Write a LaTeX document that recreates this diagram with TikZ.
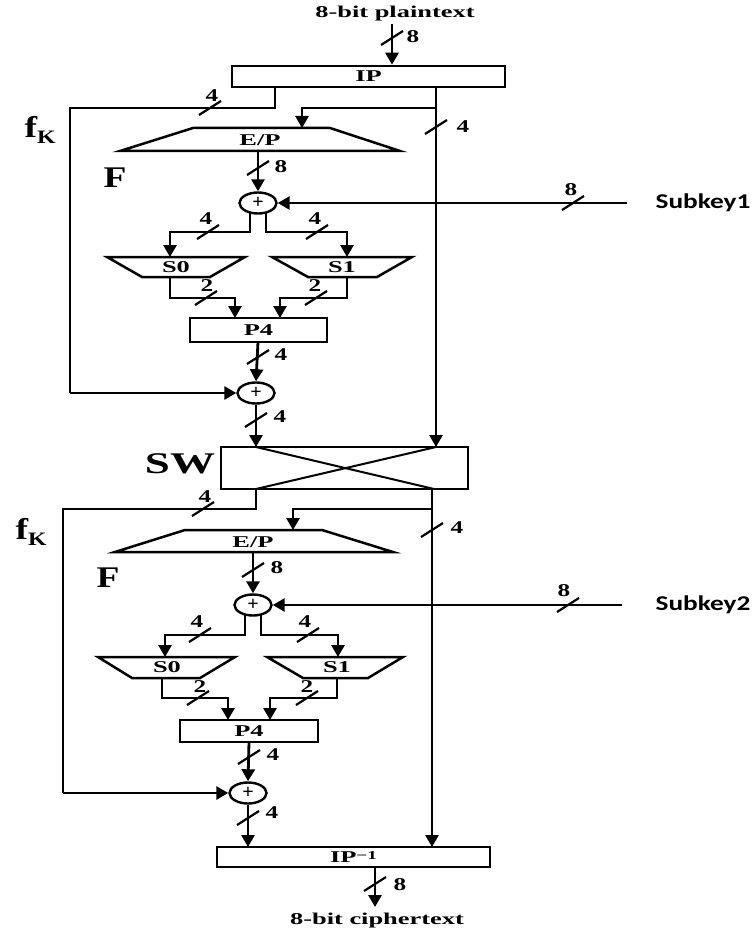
\documentclass[tikz,border=0pt]{standalone}
\usepackage{fontspec}
\setmainfont{Liberation Serif}
\newfontfamily\lblfont[FakeStretch=1.6]{Liberation Serif}
\newfontfamily\numfont[FakeStretch=1.4]{Liberation Serif}
\newfontfamily\bigfont[FakeStretch=1.25]{Liberation Serif}
\newfontfamily\swfont[FakeStretch=1.5]{Liberation Serif}
\newfontfamily\keyfont[FakeStretch=1.3]{Carlito}
\usetikzlibrary{arrows.meta,shapes.geometric}
\tikzset{
 ln/.style={line width=2.8pt},
 arr/.style={line width=2.8pt,-{Triangle[width=13pt,length=12pt]}},
 box/.style={draw,line width=2.5pt,rectangle,inner sep=0pt},
 shp/.style={line width=2.5pt,line join=miter},
 sl/.style={line width=2.2pt},
 lbl/.style={font={\lblfont\bfseries\fontsize{16.5}{17}\selectfont},inner sep=0pt},
 num/.style={font={\numfont\bfseries\fontsize{18}{18}\selectfont},inner sep=0pt},
 big/.style={font={\bigfont\bfseries\fontsize{30}{30}\selectfont},inner sep=0pt},
 swl/.style={font={\swfont\bfseries\fontsize{30}{30}\selectfont},inner sep=0pt},
 key/.style={font={\keyfont\bfseries\fontsize{21}{21}\selectfont},inner sep=0pt},
 xor/.style={draw,ellipse,line width=2.4pt,minimum width=37pt,minimum height=21pt,inner sep=0pt,font={\bfseries\fontsize{20}{20}\selectfont}},
}
\newcommand{\slmark}[2]{\draw[sl] (#1,#2) ++(-11,7) -- ++(22,-14);}
\begin{document}
\begin{tikzpicture}[x=1pt,y=-1pt]
\useasboundingbox (0,0) rectangle (755,933);
\fill[white] (0,0) rectangle (755,933);

% ---------- top round ----------
\node[lbl] (pt) at (395,14) {8-bit plaintext};
\node[box,lbl,minimum width=273pt,minimum height=21pt] (ip) at (368.5,76.5) {IP};
\node[big] (fk1) at (40,130) {f{\fontsize{19}{19}\selectfont\raisebox{-0.35em}{K}}};
\node[big] (Fa) at (115,178) {F};
\draw[shp] (193,128) -- (330,128) -- (400,151) -- (120,151) -- cycle;
\node[lbl] (ep1) at (260,140) {E/P};
\node[xor] (x1) at (258,203) {+};
\node[key] (key1) at (703,203) {Subkey1};
\draw[shp] (107,257) -- (245,257) -- (210,277) -- (142,277) -- cycle;
\node[lbl] (s0a) at (176,267) {S0};
\draw[shp] (272,257) -- (412,257) -- (377,277) -- (308,277) -- cycle;
\node[lbl] (s1a) at (342,267) {S1};
\node[box,lbl,minimum width=137pt,minimum height=24pt] (p4a) at (258.5,330) {P4};
\node[xor] (x2) at (256,393) {+};
\node[box,minimum width=247pt,minimum height=42pt] (sw) at (344.5,468) {};
\node[swl] (swlab) at (180,464) {SW};
\draw[line width=2pt] (256,447) -- (434,489);
\draw[line width=2pt] (436,447) -- (256,489);

% connectors top
\coordinate (in1) at (392,24);
\draw[arr] (in1) -- (in1 |- ip.north);
\slmark{392}{38}
\node[num] at (413,37) {8};

\coordinate (a1) at (275,87);
\draw[ln] (a1) -- (275,108) -- (70,108) -- (70,393) coordinate (fb1);
\draw[arr] (fb1) -- (x2.west);
\slmark{210}{108}
\node[num] at (212,96) {4};

\coordinate (b1) at (436,87);
\draw[arr] (b1) -- (436,447);
\slmark{436}{127}
\node[num] at (463,127) {4};
\draw[arr] (436,108) -- (302,108) -- (302,128);

\draw[arr] (258,151) -- (x1.north);
\slmark{258}{168}
\node[num] at (281,167) {8};

\coordinate (k1) at (627,203);
\draw[arr] (k1) -- (x1.east);
\slmark{573}{203}
\node[num] at (571,190) {8};

\draw[arr] (250,212.5) -- (250,232) -- (170,232) -- (170,257);
\draw[arr] (266,212.5) -- (266,232) -- (347,232) -- (347,257);
\slmark{208}{232}
\node[num] at (206,219) {4};
\slmark{317}{232}
\node[num] at (315,219) {4};

\draw[arr] (170,277) -- (170,298) -- (235,298) -- (235,318);
\draw[arr] (347,277) -- (347,298) -- (280,298) -- (280,318);
\slmark{206}{298}
\node[num] at (207,286) {2};
\slmark{316}{298}
\node[num] at (315,286) {2};

\draw[arr] (258,342) -- (x2.north);
\slmark{258}{357}
\node[num] at (281,355) {4};

\draw[arr] (x2.south) -- (256,447);
\slmark{256}{420}
\node[num] at (280,417) {4};

% ---------- bottom round ----------
\node[big] (fk2) at (31,532) {f{\fontsize{19}{19}\selectfont\raisebox{-0.35em}{K}}};
\node[big] (Fb) at (108,578) {F};
\draw[shp] (185,530) -- (322,530) -- (393,552) -- (115,552) -- cycle;
\node[lbl] (ep2) at (253,542) {E/P};
\node[xor] (x3) at (253,605) {+};
\node[key] (key2) at (703,605) {Subkey2};
\draw[shp] (98,657) -- (235,657) -- (200,678) -- (132,678) -- cycle;
\node[lbl] (s0b) at (167,667) {S0};
\draw[shp] (267,657) -- (403,657) -- (368,678) -- (303,678) -- cycle;
\node[lbl] (s1b) at (337,667) {S1};
\node[box,lbl,minimum width=138pt,minimum height=22pt] (p4b) at (249,731) {P4};
\node[xor] (x4) at (248,793) {+};
\node[box,lbl,minimum width=273pt,minimum height=20pt] (ipinv) at (353.5,857) {IP{\fontsize{12}{12}\selectfont\raisebox{0.3em}{−1}}};
\node[lbl] (ct) at (377,921) {8-bit ciphertext};

\draw[ln] (256,489) -- (256,509) -- (63,509) -- (63,793) coordinate (fb2);
\draw[arr] (fb2) -- (x4.west);
\slmark{203}{509}
\node[num] at (205,497) {4};

\draw[arr] (432,489) -- (432,847);
\slmark{432}{530}
\node[num] at (457,528) {4};
\draw[arr] (432,509) -- (293,509) -- (293,530);

\draw[arr] (253,552) -- (x3.north);
\slmark{253}{570}
\node[num] at (277,568) {8};

\coordinate (k2) at (622,605);
\draw[arr] (k2) -- (x3.east);
\slmark{568}{605}
\node[num] at (564,591) {8};

\draw[arr] (245,615) -- (245,635) -- (165,635) -- (165,657);
\draw[arr] (261,615) -- (261,635) -- (338,635) -- (338,657);
\slmark{200}{635}
\node[num] at (197,622) {4};
\slmark{308}{635}
\node[num] at (305,622) {4};

\draw[arr] (162,678) -- (162,698) -- (228,698) -- (228,720);
\draw[arr] (337,678) -- (337,698) -- (270,698) -- (270,720);
\slmark{198}{698}
\node[num] at (200,687) {2};
\slmark{307}{698}
\node[num] at (307,687) {2};

\draw[arr] (249,742) -- (x4.north);
\slmark{249}{757}
\node[num] at (273,755) {4};

\draw[arr] (x4.south) -- (248,847);
\slmark{248}{818}
\node[num] at (272,813) {4};

\draw[arr] (375,867) -- (375,907);
\slmark{375}{884}
\node[num] at (400,885) {8};
\end{tikzpicture}
\end{document}
